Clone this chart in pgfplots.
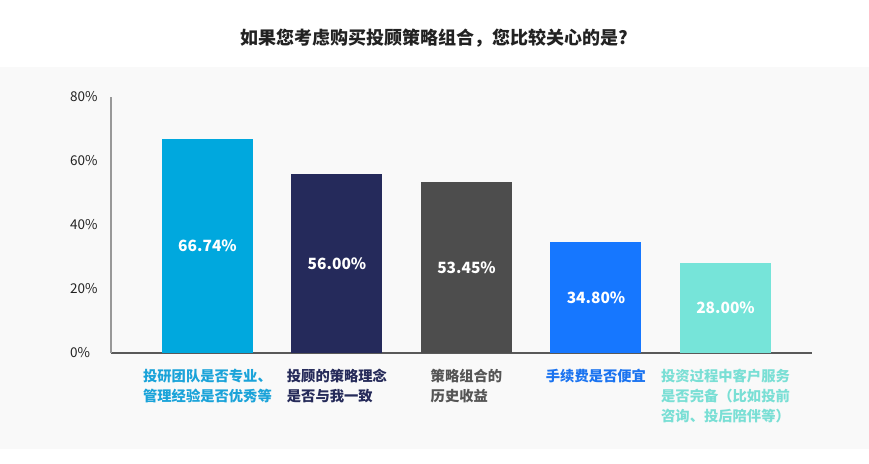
\documentclass[border=0pt]{standalone}
\usepackage{pgfplots}
\pgfplotsset{compat=1.18}
\usepackage{fontspec}
\setmainfont{Noto Sans CJK SC}
\definecolor{cA}{HTML}{00A8DE}
\definecolor{cB}{HTML}{252A5B}
\definecolor{cC}{HTML}{4D4D4D}
\definecolor{cD}{HTML}{1677FF}
\definecolor{cE}{HTML}{76E4D9}
\definecolor{lA}{HTML}{1AA3D9}
\definecolor{lB}{HTML}{262B5A}
\definecolor{lC}{HTML}{555555}
\definecolor{lD}{HTML}{1A73F0}
\definecolor{lE}{HTML}{7ADFD5}
\definecolor{bg}{HTML}{F9F9F9}
\definecolor{ttl}{HTML}{222222}
\begin{document}
\begin{tikzpicture}[x=1pt,y=1pt]
\path[use as bounding box, fill=white] (0,0) rectangle (869,463);
\fill[bg] (0,14) rectangle (869,396);
\node[font=\fontsize{18}{22}\selectfont\bfseries, text=ttl] at (434.5,425) {如果您考虑购买投顾策略组合，您比较关心的是?};
\begin{axis}[
  at={(111pt,110pt)}, anchor=south west,
  scale only axis, width=701pt, height=256pt,
  xmin=-0.745, xmax=4.668, ymin=0, ymax=80,
  axis x line*=bottom, axis y line*=left,
  axis line style={-},
  x axis line style={draw=black!65, line width=1.1pt},
  y axis line style={draw=black!40, line width=1.1pt},
  major tick length=0pt,
  ytick={0,20,40,60,80},
  yticklabel={\pgfmathprintnumber{\tick}\%},
  /pgf/number format/assume math mode=true,
  yticklabel style={anchor=west, inner sep=0pt, xshift=-41pt, font=\fontsize{13.5}{16}\selectfont, text=ttl},
  xtick={0,1,2,3,4},
  xticklabels={
    {\textcolor{lA}{投研团队是否专业、}\\\textcolor{lA}{管理经验是否优秀等}},
    {\textcolor{lB}{投顾的策略理念}\\\textcolor{lB}{是否与我一致}},
    {\textcolor{lC}{策略组合的}\\\textcolor{lC}{历史收益}},
    {\textcolor{lD}{手续费是否便宜}},
    {\textcolor{lE}{投资过程中客户服务}\\\textcolor{lE}{是否完备（比如投前}\\\textcolor{lE}{咨询、投后陪伴等）}}
  },
  xticklabel style={anchor=north, align=left, inner sep=0pt, yshift=-16pt, font=\fontsize{14.3}{20}\selectfont\bfseries},
  ybar, bar width=91pt, bar shift=0pt,
  point meta=explicit symbolic,
  nodes near coords,
  visualization depends on=rawy \as \rawy,
  every node near coord/.append style={anchor=center, yshift={-1.6*\rawy}, text=white, font=\fontsize{15.5}{18}\selectfont\bfseries},
  clip=false,
]
\addplot[fill=cA, draw=none] coordinates {(0,66.74) [66.74\%]};
\addplot[fill=cB, draw=none] coordinates {(1,56.00) [56.00\%]};
\addplot[fill=cC, draw=none] coordinates {(2,53.45) [53.45\%]};
\addplot[fill=cD, draw=none] coordinates {(3,34.80) [34.80\%]};
\addplot[fill=cE, draw=none] coordinates {(4,28.00) [28.00\%]};
\end{axis}
\end{tikzpicture}
\end{document}
